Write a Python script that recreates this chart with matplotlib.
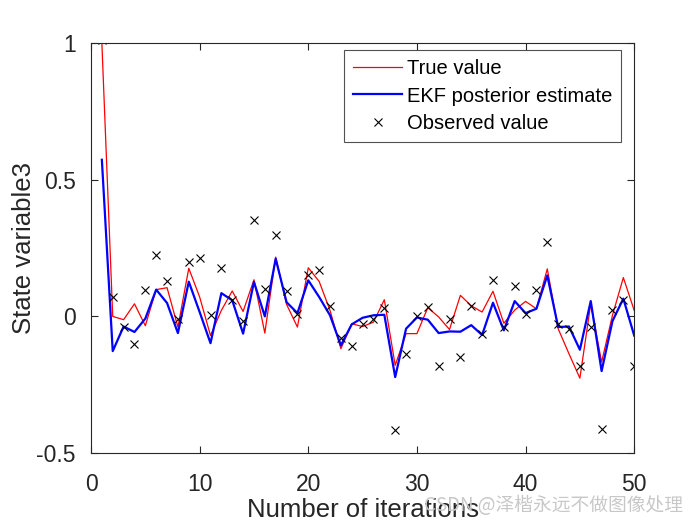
import numpy as np
import matplotlib.pyplot as plt

# Datos
k = np.arange(1, 51)

true_val = [1.0, 0.0, -0.012, 0.046, -0.034, 0.098, 0.105, -0.039, 0.176, 0.071,
            -0.07, 0.022, 0.093, 0.018, 0.134, -0.061, 0.217, 0.044, -0.039, 0.178,
            0.128, 0.022, -0.118, -0.027, -0.037, -0.021, 0.061, -0.179, -0.063, -0.063,
            0.032, -0.002, -0.048, 0.077, 0.039, 0.016, 0.092, -0.025, 0.023, 0.055,
            0.028, 0.174, -0.045, -0.137, -0.226, 0.046, -0.167, 0.004, 0.142, 0.022]

ekf_est = [0.573, -0.127, -0.037, -0.057, -0.008, 0.098, 0.049, -0.061, 0.127, 0.016,
           -0.098, 0.085, 0.059, -0.063, 0.126, 0.0, 0.211, 0.052, 0.012, 0.132,
           0.071, 0.004, -0.106, -0.029, -0.005, 0.004, 0.006, -0.222, -0.045, -0.004,
           -0.012, -0.061, -0.055, -0.056, -0.032, -0.068, 0.05, -0.051, 0.056, 0.012,
           0.028, 0.15, -0.039, -0.037, -0.122, 0.056, -0.2, -0.017, 0.065, -0.07]

observed = [1.01, 0.07, -0.04, -0.10, 0.095, 0.225, 0.13, -0.01, 0.2, 0.215,
            0.004, 0.178, 0.061, -0.017, 0.351, 0.101, 0.299, 0.093, 0.01, 0.15,
            0.171, 0.037, -0.078, -0.11, -0.029, -0.011, 0.032, -0.417, -0.137, 0.001,
            0.034, -0.183, -0.009, -0.149, 0.038, -0.066, 0.134, -0.037, 0.113, 0.01,
            0.098, 0.271, -0.029, -0.046, -0.182, -0.037, -0.411, 0.024, 0.059, -0.18]

plt.rcParams['font.family'] = ['Liberation Sans', 'DejaVu Sans']
gris = '#262626'

fig = plt.figure(figsize=(7, 5.25), dpi=100)
ax = fig.add_axes([0.13, 0.137, 0.776, 0.781])

ax.plot(k, true_val, '-', color='#ff0000', lw=0.9, label='True value')
ax.plot(k, ekf_est, '-', color='#0000ff', lw=1.6, label='EKF posterior estimate')
ax.plot(k, observed, 'x', color='k', ms=6, mew=0.8, label='Observed value')

ax.set_xlim(0, 50)
ax.set_ylim(-0.5, 1)
ax.set_xticks([0, 10, 20, 30, 40, 50])
ax.set_yticks([-0.5, 0, 0.5, 1])
ax.set_yticklabels(['-0.5', '0', '0.5', '1'])
ax.tick_params(direction='in', top=True, right=True, labelsize=16.5, length=5,
               width=0.8, colors=gris, labelcolor=gris)
ax.tick_params(axis='x', pad=14)
ax.tick_params(axis='y', pad=11)
for s in ax.spines.values():
    s.set_linewidth(0.8)
    s.set_color(gris)

ax.set_xlabel('Number of iterations', fontsize=18.5, color=gris, labelpad=2)
ax.set_ylabel('State variable3', fontsize=18.5, color=gris, labelpad=0)

leg = ax.legend(loc='upper right', fontsize=14.5, frameon=True, fancybox=False,
                edgecolor=gris, bbox_to_anchor=(0.976, 0.982), borderaxespad=0,
                handlelength=2.4, handletextpad=0.25, borderpad=0.45,
                labelspacing=0.4)
leg.get_frame().set_linewidth(0.8)
for t in leg.get_texts():
    t.set_color('k')

fig.text(0.975, 0.038, 'CSDN @泽楷永远不做图像处理', fontsize=13.5, color='#c8c8c8',
         ha='right', va='center',
         family=['Noto Sans CJK SC', 'DejaVu Sans'])

fig.savefig('out.png', dpi=100)
